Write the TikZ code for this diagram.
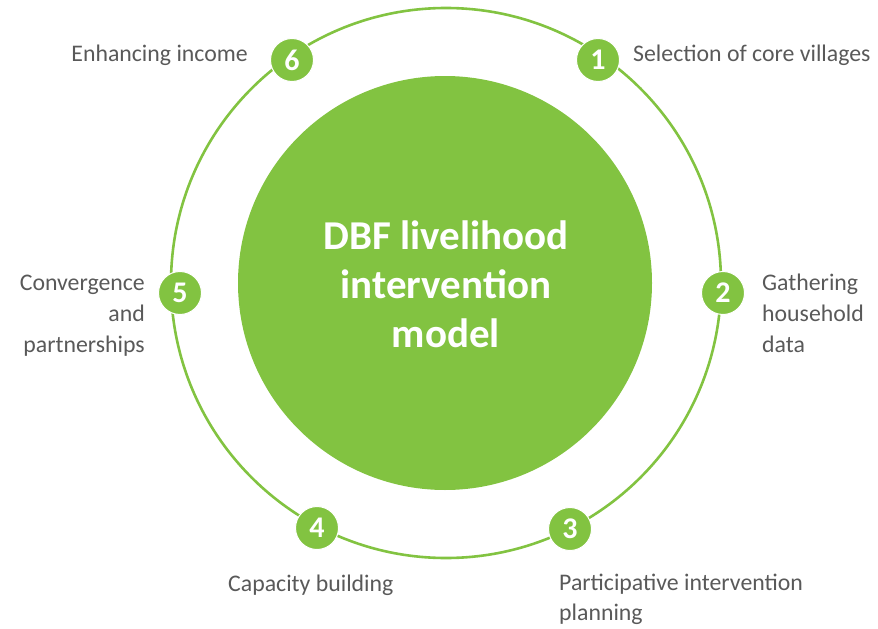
\documentclass[tikz,border=0pt]{standalone}
\usepackage{fontspec}
\setmainfont{Carlito}
\definecolor{grn}{HTML}{82C341}
\definecolor{txt}{HTML}{595959}
\begin{document}
\begin{tikzpicture}[x=1pt,y=-1pt,
  badge/.style={circle,fill=grn,draw=white,line width=1pt,minimum size=43pt,inner sep=0pt,text=white,font=\fontsize{30}{30}\selectfont\bfseries},
  lbl/.style={text=txt,font=\fontsize{23.8}{30}\selectfont,inner sep=0pt},
  ttl/.style={text=white,font=\fontsize{41}{49}\selectfont\bfseries,inner sep=0pt,anchor=base}]
\useasboundingbox (0,0) rectangle (878,629);
\node[circle,fill=grn,minimum size=414pt,inner sep=0pt] (core) at (445,283) {};
\draw[grn,line width=2.6pt] (446,283) circle (275pt);
\node[ttl] (t1) at (446,249) {DBF livelihood};
\node[ttl] (t2) at (446,298) {intervention};
\node[ttl] (t3) at (446,347) {model};
\node[badge] (b1) at (598,60) {1};
\node[badge] (b2) at (723,293) {2};
\node[badge] (b3) at (570,529) {3};
\node[badge] (b4) at (317,528) {4};
\node[badge] (b5) at (180,293) {5};
\node[badge] (b6) at (292,60) {6};
\node[lbl,anchor=base west] (l1) at (633,61) {Selection of core villages};
\node[lbl,anchor=base west] (l2a) at (762,290.5) {Gathering};
\node[lbl,anchor=base west] (l2b) at (762,321.5) {household};
\node[lbl,anchor=base west] (l2c) at (762,352.5) {data};
\node[lbl,anchor=base west] (l3a) at (559,590) {Participative intervention};
\node[lbl,anchor=base west] (l3b) at (559,620.5) {planning};
\node[lbl,anchor=base west] (l4) at (228,591) {Capacity building};
\node[lbl,anchor=base east] (l5a) at (145,290.5) {Convergence};
\node[lbl,anchor=base east] (l5b) at (145,321.5) {and};
\node[lbl,anchor=base east] (l5c) at (145,352.5) {partnerships};
\node[lbl,anchor=base east] (l6) at (248,61) {Enhancing income};
\end{tikzpicture}
\end{document}
